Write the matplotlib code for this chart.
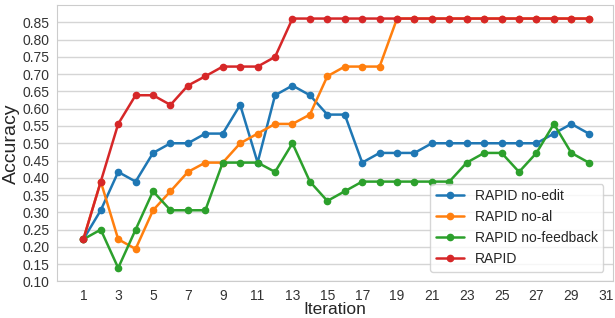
import matplotlib

matplotlib.use("Agg")
import matplotlib.pyplot as plt  # noqa: E402
import numpy as np  # noqa: E402
import seaborn as sns  # noqa: E402

sns.set_style("whitegrid")
plt.rcParams["font.family"] = ["Liberation Sans", "DejaVu Sans"]

iters = np.arange(1, 31)
no_edit = [0.222, 0.306, 0.417, 0.389, 0.472, 0.500, 0.500, 0.528, 0.528, 0.611,
           0.444, 0.639, 0.667, 0.639, 0.583, 0.583, 0.444, 0.472, 0.472, 0.472,
           0.500, 0.500, 0.500, 0.500, 0.500, 0.500, 0.500, 0.528, 0.556, 0.528]
no_al = [0.222, 0.389, 0.222, 0.194, 0.306, 0.361, 0.417, 0.444, 0.444, 0.500,
         0.528, 0.556, 0.556, 0.583, 0.694, 0.722, 0.722, 0.722, 0.861, 0.861,
         0.861, 0.861, 0.861, 0.861, 0.861, 0.861, 0.861, 0.861, 0.861, 0.861]
no_feedback = [0.222, 0.250, 0.139, 0.250, 0.361, 0.306, 0.306, 0.306, 0.444, 0.444,
               0.444, 0.417, 0.500, 0.389, 0.333, 0.361, 0.389, 0.389, 0.389, 0.389,
               0.389, 0.389, 0.444, 0.472, 0.472, 0.417, 0.472, 0.556, 0.472, 0.444]
rapid = [0.222, 0.389, 0.556, 0.639, 0.639, 0.611, 0.667, 0.694, 0.722, 0.722,
         0.722, 0.750, 0.861, 0.861, 0.861, 0.861, 0.861, 0.861, 0.861, 0.861,
         0.861, 0.861, 0.861, 0.861, 0.861, 0.861, 0.861, 0.861, 0.861, 0.861]

series = [
    ("RAPID no-edit", no_edit, "#1f77b4"),
    ("RAPID no-al", no_al, "#ff7f0e"),
    ("RAPID no-feedback", no_feedback, "#2ca02c"),
    ("RAPID", rapid, "#d62728"),
]

fig = plt.figure(figsize=(6.15, 3.18), dpi=100)
ax = fig.add_axes([0.093, 0.115, 0.904, 0.869])
for label, vals, color in series:
    ax.plot(iters, vals, "-o", color=color, linewidth=1.8, markersize=4.5, label=label)

ax.set_xlim(-0.5, 31.4)
ax.set_ylim(0.1, 0.9)
ax.set_xticks(np.arange(1, 32, 2))
ax.set_yticks(np.arange(0.10, 0.851, 0.05))
ax.yaxis.set_major_formatter(matplotlib.ticker.FormatStrFormatter("%.2f"))
ax.tick_params(labelsize=10, colors="#333333", pad=2)
ax.grid(axis="x", visible=False)
ax.grid(axis="y", color="#d5d5d5", linewidth=1)
for s in ax.spines.values():
    s.set_color("#cccccc")
ax.set_xlabel("Iteration", fontsize=12.5, labelpad=-1)
ax.set_ylabel("Accuracy", fontsize=14, labelpad=2)
ax.legend(loc="lower right", fontsize=10, frameon=True, bbox_to_anchor=(0.995, 0.01))

fig.savefig("out.png", dpi=100)
